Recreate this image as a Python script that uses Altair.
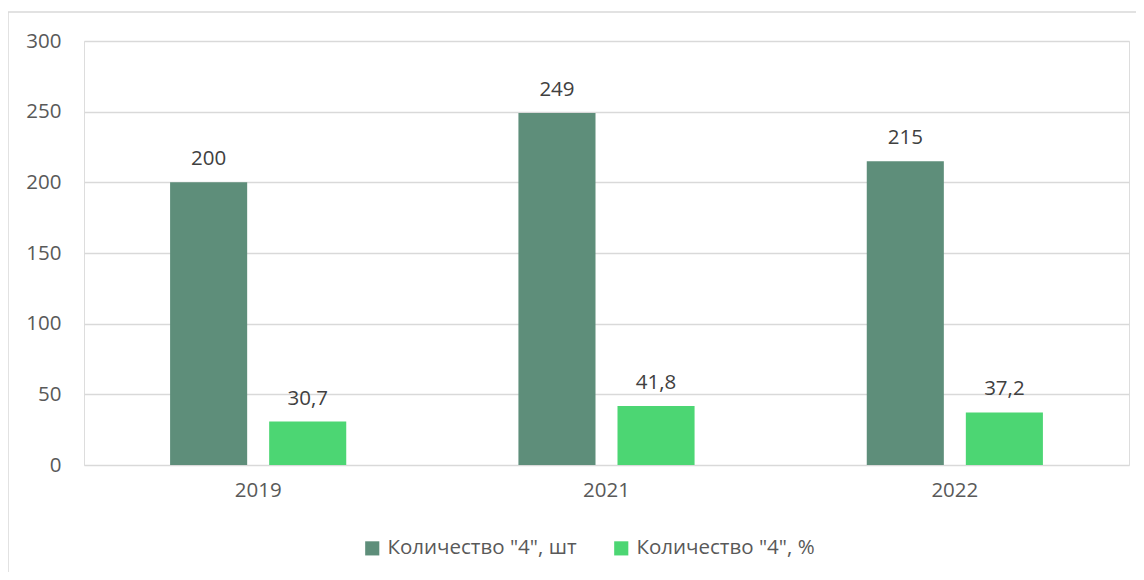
import altair as alt
import pandas as pd

years = ["2019", "2021", "2022"]
series = ['Количество "4", шт', 'Количество "4", %']
count_values = [200, 249, 215]
percent_values = [30.7, 41.8, 37.2]
colors = ["#5E8E7A", "#4CD673"]

rows = []
for i, y in enumerate(years):
    rows.append({"year": y, "series": series[0], "value": count_values[i], "order": 0})
    rows.append({"year": y, "series": series[1], "value": percent_values[i], "order": 1})
df = pd.DataFrame(rows)

FONT = "Open Sans"
FS = 20.5

base = alt.Chart(df).encode(
    x=alt.X("year:N", sort=years, title=None,
            scale=alt.Scale(paddingInner=0, paddingOuter=0),
            axis=alt.Axis(labelAngle=0, domain=False, ticks=False, labelPadding=15,
                          labelFontSize=FS, labelColor="#595959", labelFont=FONT)),
    xOffset=alt.XOffset("series:N", sort=series,
                        scale=alt.Scale(paddingInner=0.222, paddingOuter=0.869)),
    y=alt.Y("value:Q", title=None,
            scale=alt.Scale(domain=[0, 300], nice=False),
            axis=alt.Axis(values=[0, 50, 100, 150, 200, 250, 300], domain=False, ticks=False,
                          labelPadding=23, labelFontSize=FS, labelColor="#595959",
                          labelFont=FONT, gridColor="#D9D9D9", gridWidth=1.5)),
)

bars = base.mark_bar().encode(
    color=alt.Color("series:N", sort=series,
                    scale=alt.Scale(domain=series, range=colors),
                    legend=alt.Legend(title=None, orient="none", direction="horizontal",
                                      legendX=278, legendY=497, symbolType="square",
                                      symbolSize=200, symbolStrokeWidth=0,
                                      labelFontSize=FS, labelColor="#595959", labelFont=FONT,
                                      labelLimit=0, labelOffset=5, columnPadding=34)),
)

labels = base.transform_calculate(
    label="replace(toString(datum.value), '.', ',')"
).mark_text(dy=-13, baseline="bottom", fontSize=FS, color="#404040", font=FONT).encode(
    text="label:N"
)

frame = alt.Chart(pd.DataFrame({"k": [0]})).mark_rect(
    fill=None, stroke="#D9D9D9", strokeWidth=1.5
).encode(
    x=alt.value(-76), x2=alt.value(1080), y=alt.value(-29), y2=alt.value(560)
)

chart = alt.layer(frame, bars, labels).properties(
    width=1045, height=424,
    padding={"left": 76, "top": 33, "right": 7, "bottom": 107},
    autosize=alt.AutoSizeParams(type="none"),
).configure_view(stroke=None).configure(background="white")

chart.save("out.html", embed_options={"renderer": "svg", "actions": False})
